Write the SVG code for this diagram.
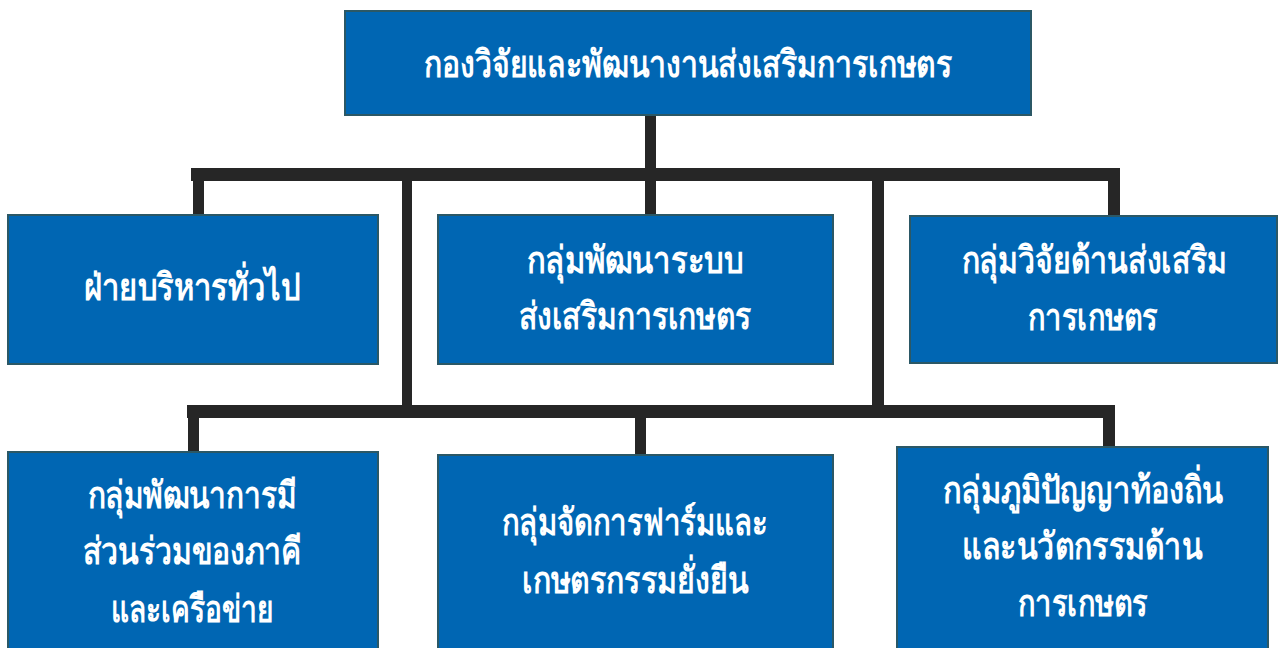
<svg xmlns="http://www.w3.org/2000/svg" width="1283" height="648" viewBox="0 0 1283 648">
<style>
.box{fill:#0066B3;stroke:#2B5866;stroke-width:2}
.t{fill:#FFFFFF;font-family:"Noto Sans","DejaVu Sans",sans-serif;font-weight:bold;font-size:37px;text-anchor:middle}
.c{fill:#262626}
</style>
<rect width="1283" height="648" fill="#FFFFFF"/>
<g id="connectors">
<rect class="c" x="645" y="115" width="11" height="100"/>
<rect class="c" x="191" y="168" width="929" height="13"/>
<rect class="c" x="193" y="181" width="11" height="34"/>
<rect class="c" x="1108" y="181" width="12" height="35"/>
<rect class="c" x="402" y="181" width="10" height="224"/>
<rect class="c" x="872" y="181" width="12" height="224"/>
<rect class="c" x="187" y="405" width="928" height="13"/>
<rect class="c" x="188" y="418" width="11" height="34"/>
<rect class="c" x="635" y="418" width="11" height="37"/>
<rect class="c" x="1103" y="418" width="12" height="29"/>
</g>
<g id="n0"><rect class="box" x="345" y="11" width="686" height="104"/><text class="t" x="688" y="77" textLength="528" lengthAdjust="spacingAndGlyphs">กองวิจัยและพัฒนางานส่งเสริมการเกษตร</text></g>
<g id="n1"><rect class="box" x="8" y="215" width="370" height="149"/><text class="t" x="192" y="300" textLength="217" lengthAdjust="spacingAndGlyphs">ฝ่ายบริหารทั่วไป</text></g>
<g id="n2"><rect class="box" x="438" y="215" width="395" height="149"/><text class="t" x="635" y="273" textLength="216" lengthAdjust="spacingAndGlyphs">กลุ่มพัฒนาระบบ</text><text class="t" x="635" y="329" textLength="233" lengthAdjust="spacingAndGlyphs">ส่งเสริมการเกษตร</text></g>
<g id="n3"><rect class="box" x="910" y="216" width="367" height="147"/><text class="t" x="1094" y="273" textLength="265" lengthAdjust="spacingAndGlyphs">กลุ่มวิจัยด้านส่งเสริม</text><text class="t" x="1093" y="330" textLength="130" lengthAdjust="spacingAndGlyphs">การเกษตร</text></g>
<g id="n4"><rect class="box" x="8" y="452" width="370" height="200"/><text class="t" x="192" y="508" textLength="209" lengthAdjust="spacingAndGlyphs">กลุ่มพัฒนาการมี</text><text class="t" x="192" y="564" textLength="219" lengthAdjust="spacingAndGlyphs">ส่วนร่วมของภาคี</text><text class="t" x="192" y="622" textLength="163" lengthAdjust="spacingAndGlyphs">และเครือข่าย</text></g>
<g id="n5"><rect class="box" x="438" y="455" width="395" height="200"/><text class="t" x="635" y="535" textLength="266" lengthAdjust="spacingAndGlyphs">กลุ่มจัดการฟาร์มและ</text><text class="t" x="635" y="593" textLength="226" lengthAdjust="spacingAndGlyphs">เกษตรกรรมยั่งยืน</text></g>
<g id="n6"><rect class="box" x="897" y="447" width="371" height="205"/><text class="t" x="1083" y="503" textLength="280" lengthAdjust="spacingAndGlyphs">กลุ่มภูมิปัญญาท้องถิ่น</text><text class="t" x="1082" y="559" textLength="240" lengthAdjust="spacingAndGlyphs">และนวัตกรรมด้าน</text><text class="t" x="1083" y="616" textLength="130" lengthAdjust="spacingAndGlyphs">การเกษตร</text></g>
</svg>
